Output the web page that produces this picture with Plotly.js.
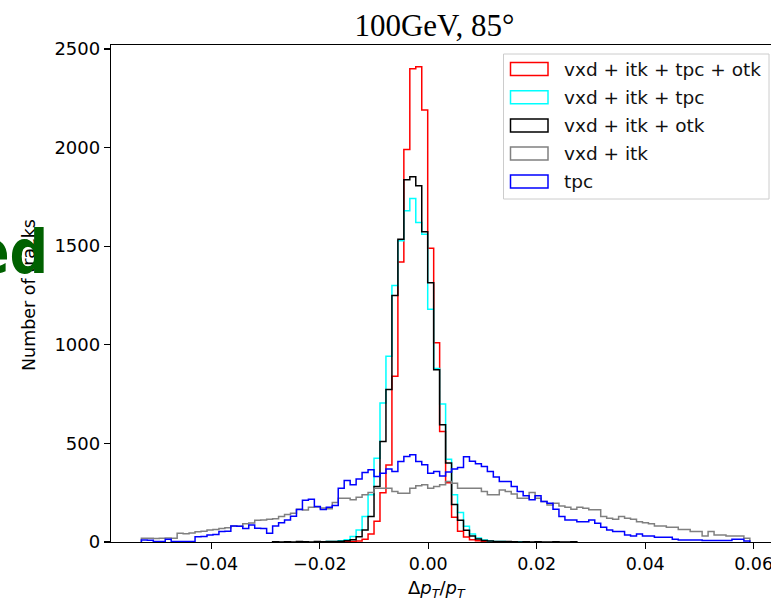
<!DOCTYPE html>
<html><head><meta charset="utf-8">
<script src="https://cdn.plot.ly/plotly-3.0.1.min.js"></script>
<style>html,body{margin:0;padding:0;background:#fff}#chart{width:771px;height:602px}</style>
</head><body><div id="chart"></div>
<script>
// Histogram binning (shared by all series)
const binStart = -0.0529;
const binWidth = 0.0011;

const seriesNames = ['vxd + itk + tpc + otk', 'vxd + itk + tpc', 'vxd + itk + otk', 'vxd + itk', 'tpc'];
const seriesColors = ['#ff0000', '#00ffff', '#000000', '#808080', '#0000ff'];

// counts per bin; each series starts at the given first bin index
const redFirstBin = 34;
const redCounts = [1, 2, 5, 14, 40, 105, 250, 390, 840, 1420, 1990, 2400, 2410, 2190, 1490, 1010, 560, 300, 125, 55, 25, 12, 6, 3, 2, 1];

const cyanFirstBin = 30;
const cyanCounts = [1, 2, 3, 6, 12, 28, 61, 129, 239, 425, 705, 942, 1301, 1527, 1679, 1742, 1620, 1561, 1180, 880, 700, 420, 240, 150, 80, 40, 20, 10, 5, 3, 2, 1, 0, 1];

const blackFirstBin = 22;
const blackCounts = [1, 0, 1, 0, 2, 1, 0, 2, 1, 2, 3, 4, 6, 12, 27, 61, 129, 281, 510, 773, 1250, 1535, 1837, 1852, 1806, 1573, 1315, 874, 595, 400, 190, 110, 60, 30, 15, 8, 5, 3, 2, 2, 1, 0, 1, 0, 1, 0, 0, 1, 0, 0, 1];

const greyFirstBin = 0;
const greyCounts = [
  19, 19, 18, 19, 20, 19, 44, 42, 46, 52,
  55, 61, 63, 69, 72, 81, 80, 92, 96, 110,
  112, 115, 118, 129, 140, 146, 166, 162, 176, 178,
  172, 168, 200, 222, 222, 214, 227, 239, 251, 273,
  273, 273, 256, 247, 247, 273, 285, 290, 273, 281,
  290, 307, 298, 273, 273, 273, 273, 256, 239, 239,
  264, 256, 244, 222, 222, 251, 222, 205, 188, 197,
  183, 176, 166, 176, 171, 163, 163, 129, 120, 115,
  129, 120, 115, 103, 98, 92, 81, 81, 75, 75,
  64, 64, 53, 53, 31, 53, 36, 36, 31, 31,
  31, 19];

const blueFirstBin = 0;
const blueCounts = [
  10, 9, 3, 2, 14, 3, 2, 2, 3, 27,
  28, 36, 38, 53, 55, 81, 80, 69, 86, 70,
  68, 44, 81, 97, 112, 130, 165, 212, 217, 180,
  165, 176, 185, 273, 312, 290, 319, 353, 366, 332,
  349, 370, 358, 408, 434, 442, 408, 392, 349, 358,
  335, 355, 370, 378, 432, 410, 397, 383, 358, 329,
  307, 307, 281, 256, 234, 214, 234, 205, 197, 166,
  129, 112, 112, 103, 103, 112, 95, 75, 61, 53,
  53, 36, 31, 41, 31, 31, 24, 24, 24, 14,
  10, 10, 10, 10, 7, 7, 7, 7, 7, 14,
  14, 5];

const xTickVals = [-0.04, -0.02, 0.00, 0.02, 0.04, 0.06];
const yTickVals = [0, 500, 1000, 1500, 2000, 2500];

function stepOutline(firstBin, counts) {
  const edge = k => binStart + k * binWidth;
  const xs = [edge(firstBin)], ys = [0];
  counts.forEach((c, i) => { xs.push(edge(firstBin + i)); ys.push(c); });
  const last = firstBin + counts.length;
  xs.push(edge(last)); ys.push(counts[counts.length - 1]);
  xs.push(edge(last)); ys.push(0);
  return {xs, ys};
}

const allSeries = [
  [redFirstBin, redCounts], [cyanFirstBin, cyanCounts], [blackFirstBin, blackCounts],
  [greyFirstBin, greyCounts], [blueFirstBin, blueCounts]
];

const traces = allSeries.map((s, i) => {
  const o = stepOutline(s[0], s[1]);
  return {
    type: 'scatter', mode: 'lines', x: o.xs, y: o.ys,
    line: {shape: 'hv', color: seriesColors[i], width: 1.5},
    name: seriesNames[i], showlegend: false, hoverinfo: 'skip'
  };
});

// layout geometry (pixels)
const W = 771, H = 602, ML = 111, MR = 0, MT = 45, MB = 60;
const PW = W - ML - MR, PH = H - MT - MB;
const px = x => (x - ML) / PW;
const py = y => (H - MB - y) / PH;

const FONT = 'DejaVu Sans';
const shapes = [];
const annotations = [];
// legend frame
shapes.push({type: 'rect', xref: 'paper', yref: 'paper', x0: px(503.5), x1: px(769), y0: py(199), y1: py(54),
  line: {color: '#cccccc', width: 1}, fillcolor: 'rgba(255,255,255,0.8)', layer: 'above'});
const rowY = [69, 97.3, 125.5, 153.5, 181.5];
seriesNames.forEach((n, i) => {
  shapes.push({type: 'rect', xref: 'paper', yref: 'paper', x0: px(510.5), x1: px(548), y0: py(rowY[i] + 6.5), y1: py(rowY[i] - 6.5),
    line: {color: seriesColors[i], width: 1.5}, fillcolor: 'rgba(0,0,0,0)', layer: 'above'});
  annotations.push({xref: 'paper', yref: 'paper', x: px(562), y: py(rowY[i]), xanchor: 'left', yanchor: 'middle',
    text: n, showarrow: false, font: {family: FONT, size: 18.5, color: '#111111'}});
});
// axis titles
annotations.push({xref: 'paper', yref: 'paper', x: px(437), y: py(589), xanchor: 'center', yanchor: 'middle',
  text: 'Δ<i>p<sub>T</sub></i>/<i>p<sub>T</sub></i>', showarrow: false, font: {family: FONT, size: 18, color: '#000000'}});
annotations.push({xref: 'paper', yref: 'paper', x: px(29), y: py(295), xanchor: 'center', yanchor: 'middle', textangle: -90,
  text: 'Number of tracks', showarrow: false, font: {family: FONT, size: 17.5, color: '#000000'}});
// overlapping slide text
annotations.push({xref: 'paper', yref: 'paper', x: px(50), y: py(252), xanchor: 'right', yanchor: 'middle',
  text: '<b>ed</b>', showarrow: false,
  font: {family: 'Liberation Sans Narrow, DejaVu Sans Condensed, Liberation Sans', size: 60, color: '#006100'}});

const layout = {
  width: W, height: H,
  margin: {l: ML, r: MR, t: MT, b: MB, pad: 0},
  paper_bgcolor: '#ffffff', plot_bgcolor: '#ffffff',
  title: {text: '100GeV, 85°', x: 0.49, xref: 'paper', y: 1 - 25 / H, yref: 'container', yanchor: 'middle',
    font: {family: 'Liberation Serif, DejaVu Serif', size: 31, color: '#000000'}},
  font: {family: FONT, size: 18, color: '#000000'},
  xaxis: {
    range: [-0.0585, 0.0632], tickvals: xTickVals, tickformat: '.2f', ticklabeloverflow: 'allow',
    showgrid: false, zeroline: false, showline: true, mirror: true, linecolor: '#000000', linewidth: 1.2,
    ticks: 'outside', ticklen: 6, tickwidth: 1.2, tickcolor: '#000000',
    tickfont: {family: FONT, size: 17.5, color: '#000000'}
  },
  yaxis: {
    range: [0, 2520], tickvals: yTickVals, tickformat: 'd', ticklabeloverflow: 'allow',
    showgrid: false, zeroline: false, showline: true, mirror: false, linecolor: '#000000', linewidth: 1.2,
    ticks: 'outside', ticklen: 6, tickwidth: 1.2, tickcolor: '#000000',
    tickfont: {family: FONT, size: 18, color: '#000000'}
  },
  shapes: shapes,
  annotations: annotations,
  showlegend: false
};

Plotly.newPlot('chart', traces, layout, {displayModeBar: false, staticPlot: true});
</script>
</body></html>
